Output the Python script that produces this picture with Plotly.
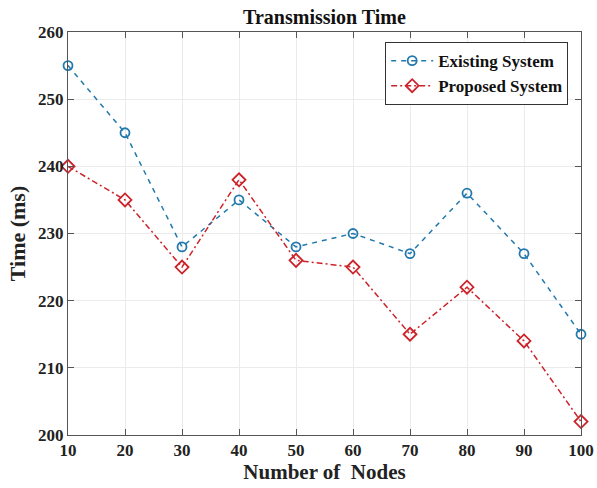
import plotly.graph_objects as go

nodes = [10, 20, 30, 40, 50, 60, 70, 80, 90, 100]
existing = [255, 245, 228, 235, 228, 230, 227, 236, 227, 215]
proposed = [240, 235, 225, 238, 226, 225, 215, 222, 214, 202]
x_ticks = [10, 20, 30, 40, 50, 60, 70, 80, 90, 100]
y_ticks = [200, 210, 220, 230, 240, 250, 260]

FONT = "Liberation Serif"
BLUE = "#2279ad"
RED = "#cc2229"
fig = go.Figure()
fig.add_trace(go.Scatter(
    x=nodes, y=existing, name="<b>Existing System</b>", mode="lines+markers",
    line=dict(color=BLUE, dash="5px,5px", width=1.5),
    marker=dict(symbol="circle-open", size=9, color=BLUE, line=dict(width=1.8)),
    cliponaxis=False,
))
fig.add_trace(go.Scatter(
    x=nodes, y=proposed, name="<b>Proposed System</b>", mode="lines+markers",
    line=dict(color=RED, dash="6px,3px,2px,3px", width=1.5),
    marker=dict(symbol="diamond-open", size=10, color=RED, line=dict(width=1.8)),
    cliponaxis=False,
))

axis_common = dict(
    showline=True, linecolor="#555", linewidth=1, mirror="ticks",
    ticks="inside", ticklen=6, tickcolor="#555",
    showgrid=True, gridcolor="#ebebeb", gridwidth=1, zeroline=False,
    tickfont=dict(family=FONT, size=17, color="#222"),
    automargin=False,
)
fig.update_xaxes(range=[10, 100], tickvals=x_ticks,
                 ticktext=[f"<b>{v}</b>" for v in x_ticks],
                 title=dict(text="<b>Number of  Nodes</b>", font=dict(family=FONT, size=21, color="#222"), standoff=2),
                 **axis_common)
fig.update_yaxes(range=[200, 260], tickvals=y_ticks,
                 ticktext=[f"<b>{v}</b>" for v in y_ticks],
                 title=dict(text="<b>Time (ms)</b>", font=dict(family=FONT, size=22, color="#222"), standoff=6),
                 **axis_common)
fig.update_layout(
    width=597, height=488,
    margin=dict(l=68, r=16, t=32, b=53),
    paper_bgcolor="white", plot_bgcolor="white",
    title=dict(text="<b>Transmission Time</b>", x=0.5, xanchor="center", y=0.965, yanchor="middle",
               xref="paper", font=dict(family=FONT, size=20, color="#111")),
    legend=dict(x=0.975, y=0.975, xanchor="right", yanchor="top",
                bordercolor="#333", borderwidth=1, bgcolor="white",
                font=dict(family=FONT, size=17, color="#111"),
                tracegroupgap=0, itemwidth=42),
    showlegend=True,
)
fig.write_html("out.html", config={"displayModeBar": False},
               post_script="document.body.style.margin='0';")
